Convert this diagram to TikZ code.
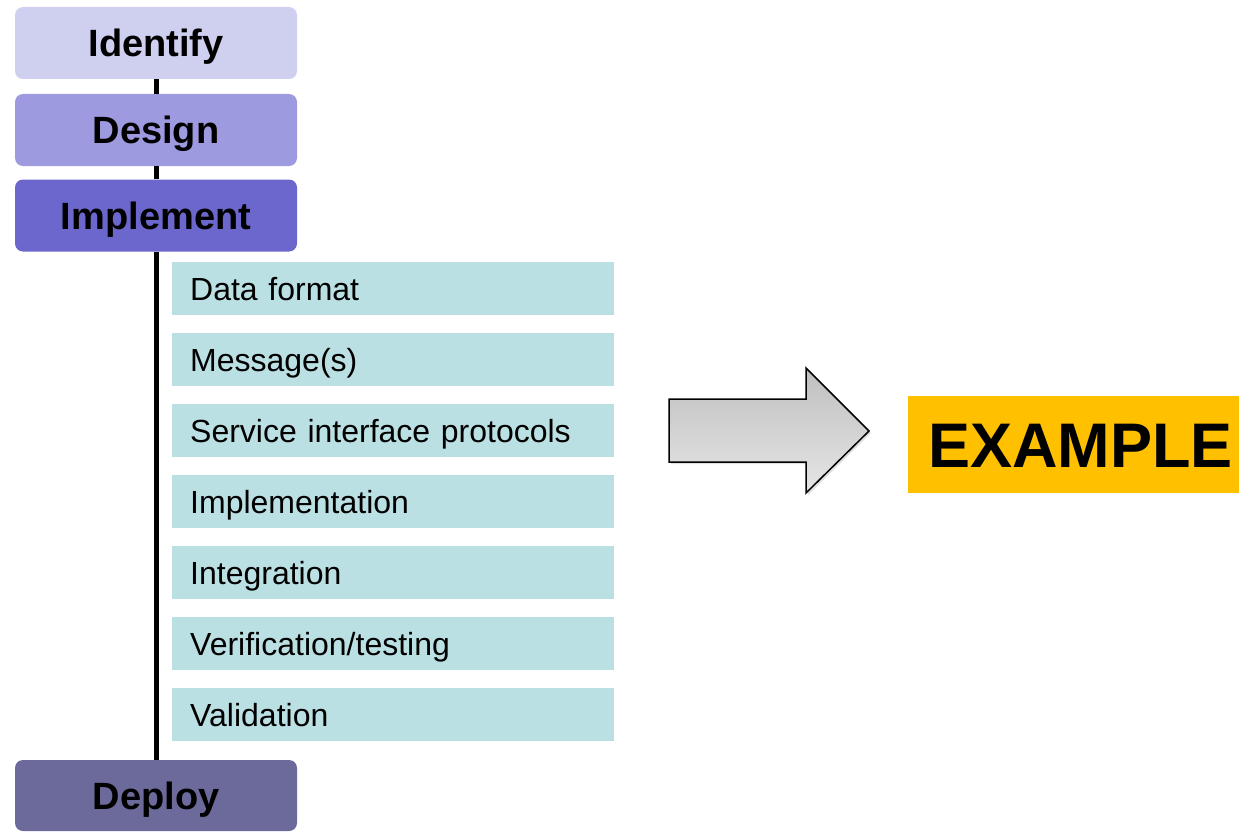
\documentclass[tikz,border=0pt]{standalone}
\usepackage{fontspec}
\setmainfont{Liberation Sans}
\usetikzlibrary{shadows}

\definecolor{phaseA}{HTML}{CFCFEF}
\definecolor{phaseB}{HTML}{9E9ADF}
\definecolor{phaseC}{HTML}{6B67CD}
\definecolor{phaseD}{HTML}{6B6A9A}
\definecolor{itemfill}{HTML}{BBE0E3}
\definecolor{exfill}{HTML}{FFC000}

\tikzset{
  phase/.style={rectangle, rounded corners=8pt, draw=none, inner sep=0pt,
    minimum width=282pt, minimum height=72pt, text height=27pt, text depth=0pt,
    font=\bfseries\fontsize{38}{40}\selectfont, text=black},
  taskbox/.style={rectangle, fill=itemfill, draw=none, anchor=west,
    inner xsep=18pt, inner ysep=0pt, text width=406pt, align=left,
    text height=23pt, text depth=0pt,
    minimum height=53pt, font=\fontsize{32}{36}\selectfont, text=black},
  spine/.style={draw=black, line width=5pt},
  exbox/.style={rectangle, fill=exfill, draw=none, inner sep=0pt,
    minimum width=331pt, minimum height=97pt, text height=46pt, text depth=0pt,
    font=\bfseries\fontsize{63}{66}\selectfont, text=black}
}

\begin{document}
\begin{tikzpicture}[x=1pt, y=-1pt]
  \useasboundingbox (0,0) rectangle (1239,832);

  % phases
  \node[phase, fill=phaseA] (identify)  at (156,43)    {Identify};
  \node[phase, fill=phaseB] (design)    at (156,130)   {Design};
  \node[phase, fill=phaseC] (implement) at (156,215.5) {Implement};
  \node[phase, fill=phaseD, minimum height=71pt] (deploy) at (156,795.5) {Deploy};

  % spine between phases
  \draw[spine] (identify.south) -- (design.north);
  \draw[spine] (design.south) -- (implement.north);
  \draw[spine] (implement.south) -- (deploy.north);

  % implementation tasks
  \node[taskbox] (t1) at (172,288.5) {Data format};
  \node[taskbox] (t2) at (172,359.5) {Message(s)};
  \node[taskbox] (t3) at (172,430.5) {Service interface protocols};
  \node[taskbox] (t4) at (172,501.5) {Implementation};
  \node[taskbox] (t5) at (172,572.5) {Integration};
  \node[taskbox] (t6) at (172,643.5) {Verification/testing};
  \node[taskbox] (t7) at (172,714.5) {Validation};

  % block arrow
  \draw[line width=1.5pt, line join=miter, top color=black!25, bottom color=black!10,
        drop shadow={shadow xshift=2pt, shadow yshift=-2pt, opacity=0.25}]
    (669,399) -- (806,399) -- (806,368) -- (869,431) -- (806,493)
    -- (806,462) -- (669,462) -- cycle;

  % example tag
  \node[exbox] (example) at (1073.5,444.5)
    {\makebox[331pt][l]{\hspace*{20pt}EXAMPLE}};
\end{tikzpicture}
\end{document}
